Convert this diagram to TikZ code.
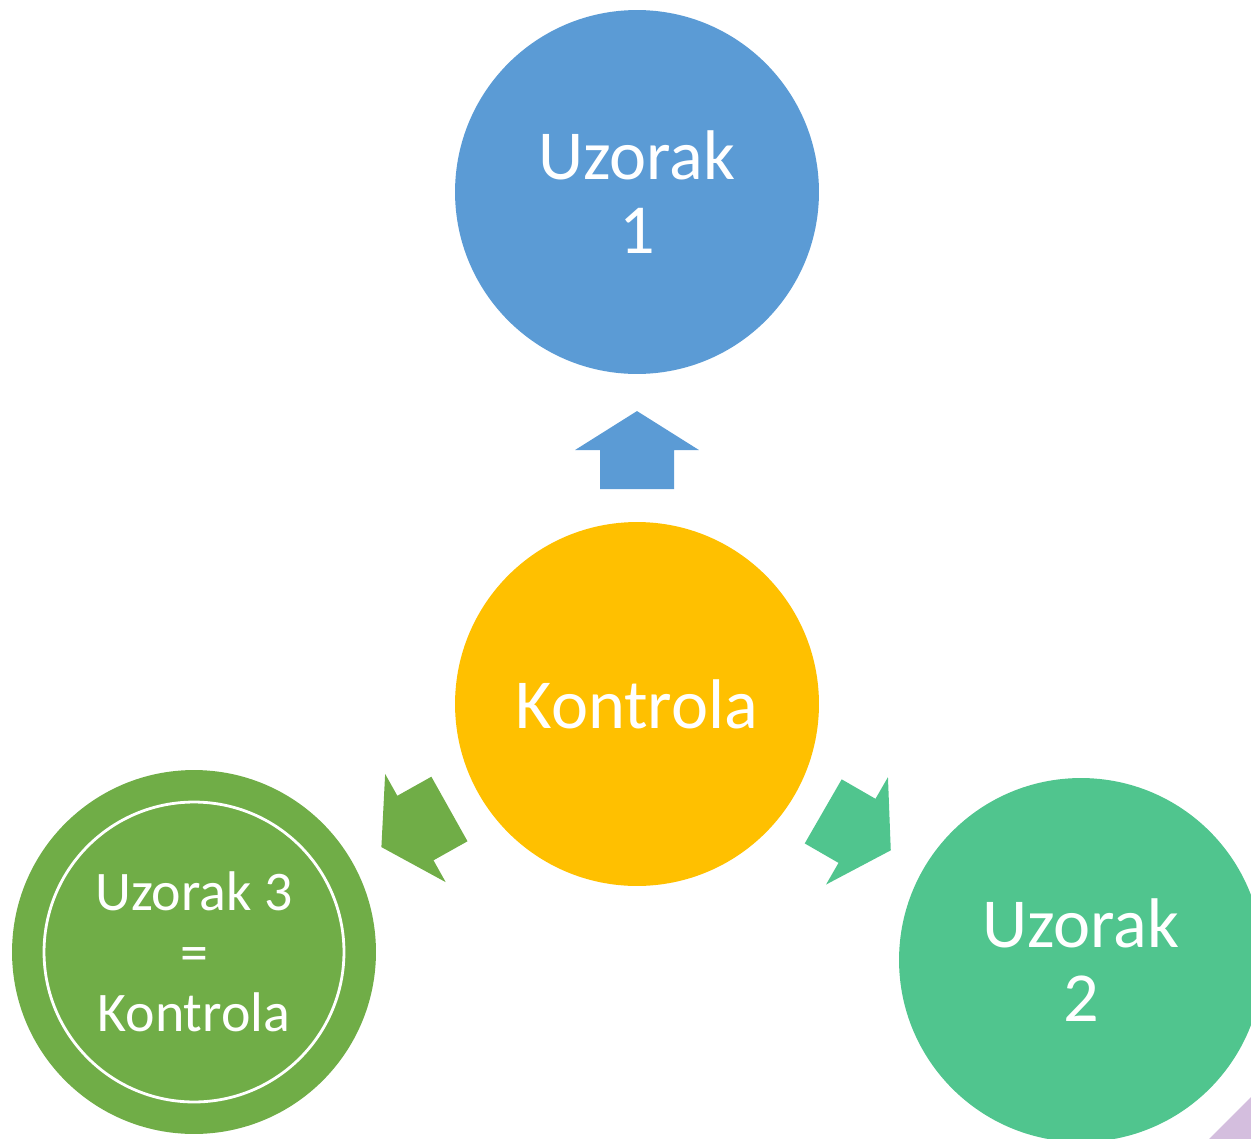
\documentclass[tikz,border=0pt]{standalone}
\usepackage{fontspec}
\setmainfont{Carlito}
\usetikzlibrary{calc}

\definecolor{uzblue}{HTML}{5B9BD5}
\definecolor{uzyellow}{HTML}{FFC000}
\definecolor{uzgreen}{HTML}{70AD47}
\definecolor{uzteal}{HTML}{50C58E}
\definecolor{uzlilac}{HTML}{D4BEDE}

\begin{document}
\begin{tikzpicture}[x=0.02cm,y=-0.02cm,
  sample/.style={circle,minimum size=7.28cm,inner sep=0pt,text=white,align=center,font=\fontsize{40}{42.5}\selectfont},
  small/.style={font=\fontsize{31.8}{34.5}\selectfont}]
\useasboundingbox (0,0) rectangle (1251,1139);
\clip (0,0) rectangle (1251,1139);
\node[sample,fill=uzyellow] (k) at (637,704) {Kontrola};
\node[sample,fill=uzblue] (u1) at (637,192) {Uzorak\\1};
\node[sample,fill=uzteal] (u2) at (1081,960) {Uzorak\\2};
\node[sample,small,fill=uzgreen] (u3) at (194,952) {Uzorak 3\\=\\Kontrola};
\draw[white,line width=1.6pt] (u3.center) circle (3cm);
% arrow to Uzorak 1
\coordinate (a1) at ($(k.center)!4.3cm!(u1.center)$);
\coordinate (a2) at ($(k.center)!5.08cm!(u1.center)$);
\coordinate (a3) at ($(k.center)!5.86cm!(u1.center)$);
\fill[uzblue] ($(a1)!0.74cm!90:(u1.center)$) -- ($(a2)!0.74cm!90:(u1.center)$) -- ($(a2)!1.24cm!90:(u1.center)$) -- (a3)
  -- ($(a2)!1.24cm!-90:(u1.center)$) -- ($(a2)!0.74cm!-90:(u1.center)$) -- ($(a1)!0.74cm!-90:(u1.center)$) -- cycle;
% arrow to Uzorak 2
\coordinate (b1) at ($(k.center)!4.3cm!(u2.center)$);
\coordinate (b2) at ($(k.center)!5.08cm!(u2.center)$);
\coordinate (b3) at ($(k.center)!5.86cm!(u2.center)$);
\fill[uzteal] ($(b1)!0.74cm!90:(u2.center)$) -- ($(b2)!0.74cm!90:(u2.center)$) -- ($(b2)!1.24cm!90:(u2.center)$) -- (b3)
  -- ($(b2)!1.24cm!-90:(u2.center)$) -- ($(b2)!0.74cm!-90:(u2.center)$) -- ($(b1)!0.74cm!-90:(u2.center)$) -- cycle;
% arrow to Uzorak 3
\coordinate (c1) at ($(k.center)!4.3cm!(u3.center)$);
\coordinate (c2) at ($(k.center)!5.08cm!(u3.center)$);
\coordinate (c3) at ($(k.center)!5.86cm!(u3.center)$);
\fill[uzgreen] ($(c1)!0.74cm!90:(u3.center)$) -- ($(c2)!0.74cm!90:(u3.center)$) -- ($(c2)!1.24cm!90:(u3.center)$) -- (c3)
  -- ($(c2)!1.24cm!-90:(u3.center)$) -- ($(c2)!0.74cm!-90:(u3.center)$) -- ($(c1)!0.74cm!-90:(u3.center)$) -- cycle;
% corner of the next shape
\fill[uzlilac] (1209,1139) -- (1251,1097) -- (1251,1139) -- cycle;
\end{tikzpicture}
\end{document}
